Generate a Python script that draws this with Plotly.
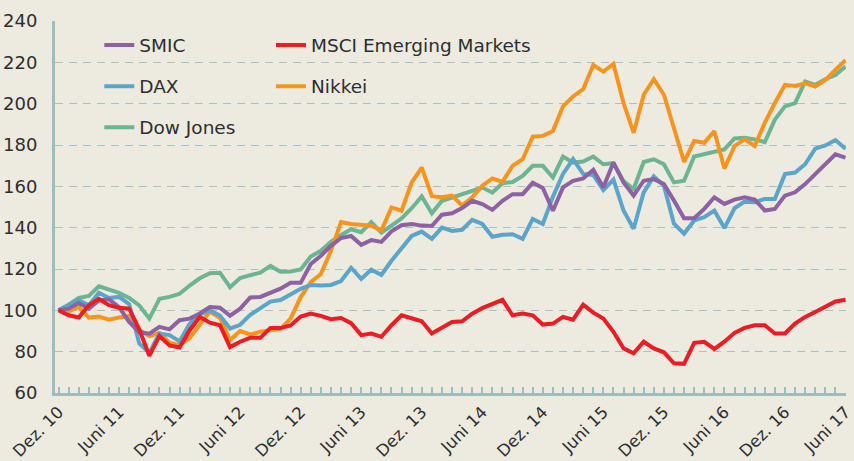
import plotly.graph_objects as go

# Month index 0 = Dez. 10 ... 78 = Juni 17
tick_labels = ["Dez. 10", "Juni 11", "Dez. 11", "Juni 12", "Dez. 12", "Juni 13", "Dez. 13",
               "Juni 14", "Dez. 14", "Juni 15", "Dez. 15", "Juni 16", "Dez. 16", "Juni 17"]
tick_months = list(range(0, 79, 6))

smic = [100, 100.8, 103.5, 100.8, 104.8, 105.3, 101.6, 94.4, 89.5, 88.7,
        92, 90.8, 95.2, 96, 98.5, 101.6, 101.3, 97.4, 100.8, 106.2,
        106.5, 108.6, 110.5, 113.3, 113.3, 122.4, 126.4, 131.2, 135, 136,
        131.7, 134, 133.1, 138.2, 141.2, 141.8, 141, 140.8, 146.3, 147,
        149.5, 153, 151.4, 148.6, 153, 156.2, 156.2, 161.7, 159.2, 148.2,
        159.5, 162.7, 163.8, 168, 159.5, 171.5, 161.9, 155.5, 162.7, 163.5,
        161.1, 153.1, 144.6, 144.6, 149.1, 154.7, 151.5, 153.6, 154.7, 153.6,
        148.3, 149.1, 155.5, 157.1, 161.1, 165.9, 170.7, 175.5, 173.9]

msci = [100, 97.6, 96.5, 102.5, 105.6, 102.5, 101.2, 100.8, 90.8, 78,
        87.6, 83, 82, 90.4, 96.8, 94, 92.8, 82.2, 84.8, 86.7,
        86.7, 91.5, 91.4, 92.7, 97, 98.4, 97.3, 95.7, 96.3, 93.8,
        88, 88.8, 87.2, 92.8, 97.6, 96.3, 94.7, 88.8, 91.5, 94.4,
        94.7, 98.4, 101.1, 103.2, 105.1, 97.6, 98.4, 97.6, 93.1, 93.6,
        96.8, 95.5, 102.7, 98.9, 96, 89.6, 81.6, 79.2, 84.8, 81.6,
        79.7, 74.4, 74.1, 84.3, 84.8, 81.3, 84.8, 89.1, 91.5, 92.8,
        92.8, 88.8, 88.8, 93.6, 96.8, 99.2, 101.6, 104.3, 105.1]

dax = [100, 102.4, 105, 102.4, 108.5, 106, 106.5, 103, 84, 79.5,
       88.7, 88, 85, 93.5, 98, 100, 97.5, 91.2, 93, 97.8,
       100.8, 104.2, 105, 107.5, 110.4, 112.3, 112, 112.3, 114.2, 120.6,
       115.2, 119.7, 117.1, 124, 130, 136, 138.1, 134.6, 140, 138.4,
       139, 143.8, 141.8, 135.6, 136.6, 136.8, 134.6, 144.2, 141.8, 155,
       166, 173.2, 166, 165.5, 158.2, 163.3, 148.3, 139.5, 157.1, 164.8,
       160.3, 141.9, 137.1, 143.5, 145.1, 148.3, 139.8, 149.4, 152.6, 152.3,
       153.9, 153.9, 165.9, 166.7, 170.7, 178.2, 179.8, 182.4, 178.2]

nikkei = [100, 99.5, 101.6, 96.5, 97, 95.5, 96.5, 97.3, 90.5, 87.5,
          89, 84.3, 83.1, 86.7, 93, 99.5, 96.3, 85.6, 90, 88.3,
          89.6, 90.4, 91, 96, 106.4, 113.6, 117.6, 128.8, 142.7, 141.8,
          141.3, 141, 138.6, 149.8, 148.2, 161.9, 169.1, 155.2, 154.7, 155.5,
          150.7, 154.7, 160.3, 163.8, 162.2, 169.9, 173.1, 184, 184.4, 186.8,
          198.7, 203.5, 207, 218.7, 215.5, 219.2, 200.3, 185.9, 204.3, 211.8,
          204.3, 188.3, 171.8, 181.9, 181.1, 186.7, 168.6, 179.5, 182.7, 179.5,
          190.7, 200.3, 209.1, 208.6, 209.9, 208.3, 211.5, 216.3, 221.1]

dow = [100, 102.7, 106, 107, 111.6, 110, 108.4, 106, 102.4, 96,
       105.6, 106.5, 108, 112, 115.5, 118, 118.2, 111.2, 115.6, 117,
       118.2, 121.5, 118.7, 118.8, 119.8, 126, 128.8, 133.1, 136.5, 139.2,
       137.8, 142.7, 137.6, 141, 144.5, 149.4, 155.1, 147, 153, 154.6,
       156.2, 157.8, 159.4, 157, 161.5, 162.1, 165, 169.9, 169.9, 164.3,
       174.4, 171.5, 172, 174.4, 170.7, 171.2, 162.5, 158.7, 171.8, 173.1,
       170.7, 161.9, 162.7, 174.4, 175.5, 176.6, 177.9, 183.2, 183.5, 182.7,
       181.4, 192.3, 198.7, 200.3, 210.7, 209.1, 211.8, 213.9, 217.9]

months = list(range(len(smic)))

series = [
    # name, values, color, legend, rank
    ("Dow Jones", dow, "#6DB592", "legend", 3),
    ("Nikkei", nikkei, "#F7941D", "legend2", 2),
    ("DAX", dax, "#5BA4CA", "legend", 2),
    ("SMIC", smic, "#8C62A2", "legend", 1),
    ("MSCI Emerging Markets", msci, "#ED1C24", "legend2", 1),
]

fig = go.Figure()
for name, vals, color, leg, rank in series:
    fig.add_trace(go.Scatter(
        x=months, y=vals, mode="lines", name=name,
        line=dict(color=color, width=4),
        legend=leg, legendrank=rank, legendgroup=name,
    ))

axis_col = "#9FBCC0"
font_col = "#2E2E2E"
bg = "#EDEAE0"

fig.update_layout(
    width=854, height=461,
    margin=dict(l=55, r=0, t=21, b=66),
    paper_bgcolor=bg, plot_bgcolor=bg,
    font=dict(family="DejaVu Sans", size=17, color=font_col),
    showlegend=True,
    legend=dict(x=0.056, y=0.985, xanchor="left", yanchor="top",
                bgcolor="rgba(0,0,0,0)", font=dict(size=18.5, color=font_col),
                tracegroupgap=14, orientation="v"),
    legend2=dict(x=0.273, y=0.985, xanchor="left", yanchor="top",
                 bgcolor="rgba(0,0,0,0)", font=dict(size=18.5, color=font_col),
                 tracegroupgap=14, orientation="v"),
    xaxis=dict(
        range=[-0.35, 78.05], tickmode="array", tickvals=tick_months, ticktext=tick_labels,
        tickangle=-45, showgrid=False, zeroline=False, ticklabeloverflow="allow",
        showline=True, linecolor=axis_col, linewidth=3,
        ticks="inside", ticklen=6, tickwidth=2, tickcolor=axis_col,
        tickfont=dict(size=16.5, color=font_col),
        minor=dict(dtick=1, tick0=0, ticks="inside", ticklen=6, tickwidth=2,
                   tickcolor=axis_col, showgrid=False),
    ),
    yaxis=dict(
        range=[60, 240], dtick=20, tick0=60,
        showgrid=True, gridcolor="#A9C2C6", gridwidth=1, griddash="8px,6px",
        zeroline=False, showline=True, linecolor=axis_col, linewidth=3,
        ticks="", ticklabelstandoff=11,
        tickfont=dict(size=18, color=font_col),
    ),
)

fig.write_html("out.html")
